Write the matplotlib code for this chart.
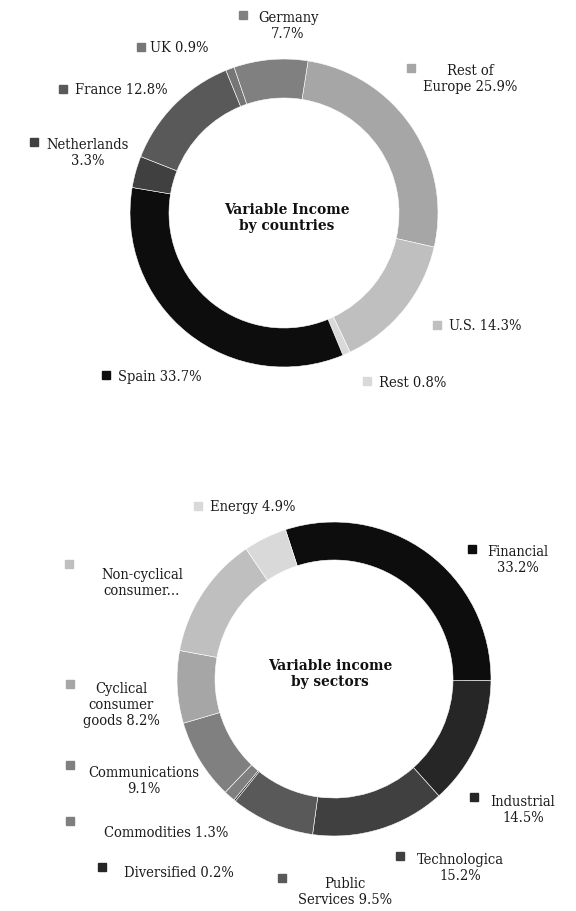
import matplotlib
matplotlib.use("Agg")
import matplotlib.pyplot as plt

W, H = 576, 912
plt.rcParams['font.family'] = ['DejaVu Serif']
plt.rcParams['font.stretch'] = 'condensed'

# countries, clockwise from the top
country_names = ["Rest of\nEurope", "U.S.", "Rest", "Spain", "Netherlands\n",
                 "France", "UK", "Germany\n"]
country_values = [25.9, 14.3, 0.8, 33.7, 3.3, 12.8, 0.9, 7.7]
country_colors = ["#a6a6a6", "#bfbfbf", "#d9d9d9", "#0d0d0d", "#404040",
                  "#595959", "#767676", "#808080"]

# sectors, clockwise from the top
sector_names = ["Financial\n", "Industrial\n", "Technologica\n", "Public\nServices",
                "Diversified", "Commodities", "Communications\n",
                "Cyclical\nconsumer\ngoods", "Non-cyclical\nconsumer...", "Energy"]
sector_values = [33.2, 14.5, 15.2, 9.5, 0.2, 1.3, 9.1, 8.2, 13.9, 4.9]
sector_colors = ["#0d0d0d", "#262626", "#404040", "#595959", "#262626",
                 "#7f7f7f", "#808080", "#a6a6a6", "#bfbfbf", "#d9d9d9"]

# label placement in pixels from the top-left: square x, square y, text x, text y, align
country_pos = [(411, 69, 470, 79, "center"), (437, 326, 449, 326, "left"),
               (367, 382, 379, 383, "left"), (106, 376, 118, 377, "left"),
               (34, 143, 88, 153, "center"), (63, 90, 75, 90, "left"),
               (141, 48, 150, 48, "left"), (243, 16, 288, 26, "center")]
sector_pos = [(472, 550, 518, 560, "center"), (474, 798, 523, 810, "center"),
              (400, 857, 460, 868, "center"), (282, 879, 345, 892, "center"),
              (102, 868, 124, 873, "left"), (70, 822, 104, 833, "left"),
              (70, 766, 144, 781, "center"), (70, 685, 121, 705, "center"),
              (69, 565, 142, 583, "center"), (198, 507, 210, 507, "left")]


def label_text(name, value):
    if name.endswith("..."):
        return name
    sep = "" if name.endswith("\n") else " "
    return f"{name}{sep}{value:.1f}%"


def donut(ax, values, colors, names, pos, cx, cy, r, width, start, title, tx, ty):
    ax.pie(values, colors=colors, center=(cx, H - cy), radius=r,
           startangle=start, counterclock=False,
           wedgeprops=dict(width=width, edgecolor="white", linewidth=0.4))
    for name, v, c, (sx, sy, x, y, ha) in zip(names, values, colors, pos):
        ax.plot(sx, H - sy, marker="s", ms=5.5, color=c, linestyle="none")
        ax.text(x, H - y, label_text(name, v), ha=ha, va="center",
                multialignment="center", fontsize=10.5, color="#1a1a1a",
                linespacing=1.2)
    ax.text(tx, H - ty, title, ha="center", va="center", fontsize=11,
            fontweight="bold", color="#111111", linespacing=1.25)


fig = plt.figure(figsize=(W / 100, H / 100), dpi=100)
ax = fig.add_axes([0, 0, 1, 1])

donut(ax, country_values, country_colors, country_names, country_pos,
      284, 214, 154, 39, 81, "Variable Income\nby countries", 287, 218)
donut(ax, sector_values, sector_colors, sector_names, sector_pos,
      334, 680, 157, 38, 108, "Variable income\nby sectors", 330, 674)

ax.set_xlim(0, W)
ax.set_ylim(0, H)
ax.set_aspect("equal")
ax.axis("off")

fig.savefig("out.png", dpi=100, facecolor="white")
